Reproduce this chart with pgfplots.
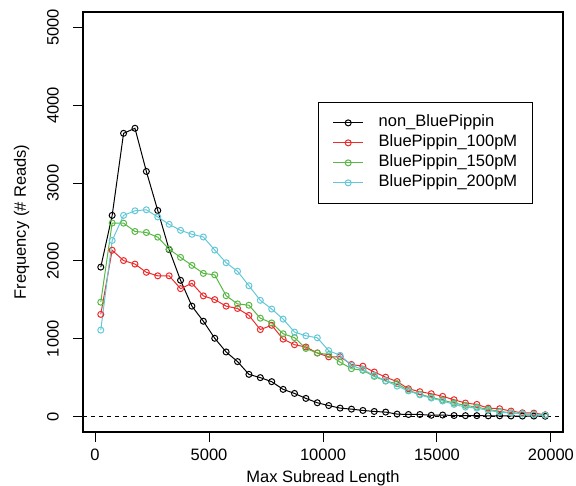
\documentclass[border=0pt]{standalone}
\usepackage{pgfplots}
\usepackage{pgfplotstable}
\pgfplotsset{compat=1.18}
\usepackage{fontspec}
\setmainfont{Liberation Sans}
\definecolor{cRed}{RGB}{236,44,44}
\definecolor{cGreen}{RGB}{88,184,68}
\definecolor{cCyan}{RGB}{98,200,216}
\pgfplotstableread{
x black red green cyan
250 1920 1312 1469 1110
750 2585 2137 2487 2262
1250 3640 2004 2485 2585
1750 3705 1959 2378 2644
2250 3150 1853 2365 2657
2750 2648 1808 2305 2565
3250 2145 1808 2150 2470
3750 1750 1643 2045 2393
4250 1418 1712 1942 2342
4750 1224 1550 1839 2307
5250 1005 1502 1820 2139
5750 829 1418 1552 1976
6250 705 1388 1447 1866
6750 541 1299 1430 1680
7250 499 1117 1263 1493
7750 447 1172 1202 1381
8250 348 994 1063 1252
8750 296 922 1013 1085
9250 232 893 874 1037
9750 176 816 816 1011
10250 140 766 795 846
10750 107 768 698 786
11250 94 668 614 657
11750 77 646 593 602
12250 64 571 515 526
12750 56 505 455 460
13250 30 448 421 390
13750 25 356 335 328
14250 25 318 285 277
14750 15 292 246 236
15250 18 258 210 198
15750 12 215 172 155
16250 10 172 142 120
16750 10 155 120 107
17250 8 107 90 77
17750 8 99 64 56
18250 6 69 47 43
18750 5 47 34 34
19250 5 43 26 26
19750 3 22 17 17
}\datatable
\begin{document}
\fontsize{16.5}{19.8}\selectfont
\begin{tikzpicture}
\begin{axis}[
 scale only axis, width=480pt, height=420pt,
 xmin=-530, xmax=20530, ymin=-200, ymax=5200,
 xtick={0,5000,...,20000}, ytick={0,1000,...,5000},
 xtick pos=bottom, ytick pos=left,
 tick align=outside, major tick length=10pt,
 tick style={black, line width=1pt},
 axis line style={line width=1.2pt},
 scaled ticks=false,
 /pgf/number format/1000 sep={},
 /pgf/number format/assume math mode=true,
 ticklabel style={font=\fontsize{16.5}{19.8}\selectfont, inner sep=0pt},
 yticklabel style={rotate=90, anchor=south},
 xticklabel style={anchor=north},
 xticklabel shift=7pt,
 yticklabel shift=14pt,
 xlabel={Max Subread Length},
 ylabel={Frequency (\# Reads)},
 label style={font=\fontsize{16.5}{19.8}\selectfont},
 xlabel style={at={(axis description cs:0.5,-0.11)}, anchor=center},
 ylabel style={at={(axis description cs:-0.128,0.5)}, anchor=center},
 legend cell align=left,
 legend image code/.code={
   \draw[mark repeat=2,mark phase=2] plot coordinates {(0pt,0pt) (15pt,0pt) (30pt,0pt)};
   \path (44pt,0pt);
 },
 legend style={at={(axis description cs:0.49,0.786)}, anchor=north west,
   font=\fontsize{16.5}{19.8}\selectfont, draw=black, line width=1pt,
   inner xsep=14pt, inner ysep=11.5pt, row sep=2pt,
   nodes={inner sep=1pt, text height=12pt, text depth=4pt}},
 every axis plot/.append style={line width=1pt, mark=o, mark size=3pt, mark options={solid}},
]
\addplot[black, dash pattern=on 4pt off 4pt, line width=0.8pt, mark=none, forget plot] coordinates {(-530,0) (20530,0)};
\addplot[black] table[x=x, y=black] {\datatable};
\addlegendentry{non\_BluePippin}
\addplot[cRed] table[x=x, y=red] {\datatable};
\addlegendentry{BluePippin\_100pM}
\addplot[cGreen] table[x=x, y=green] {\datatable};
\addlegendentry{BluePippin\_150pM}
\addplot[cCyan] table[x=x, y=cyan] {\datatable};
\addlegendentry{BluePippin\_200pM}
\end{axis}
\pgfresetboundingbox
\path[use as bounding box] (current axis.south west) ++(-83pt,-54pt) rectangle ++(576pt,486pt);
\end{tikzpicture}
\end{document}
